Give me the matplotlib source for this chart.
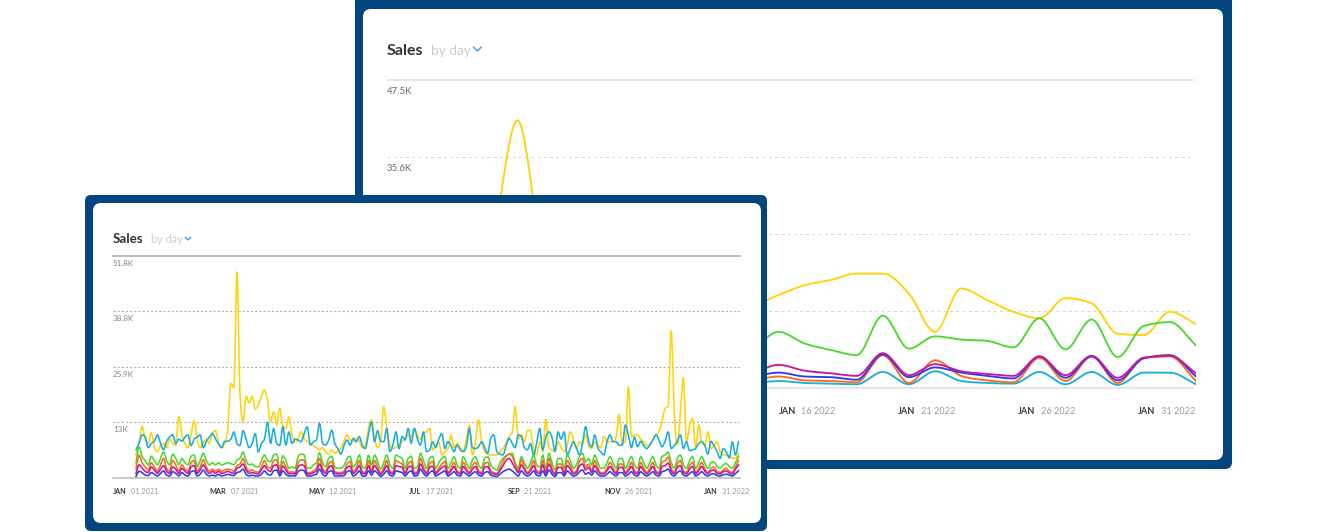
import numpy as np
import matplotlib
matplotlib.use("Agg")
import matplotlib.pyplot as plt
from matplotlib.patches import FancyBboxPatch
from matplotlib.transforms import Affine2D
from matplotlib.lines import Line2D
from matplotlib.offsetbox import TextArea, HPacker, AnnotationBbox

plt.rcParams['font.family'] = ['Lato', 'DejaVu Sans']

# ---- data (sales in hundreds) ----
# front card: Jan 01 2021 .. Jan 31 2022, one value every 2 days
front_yellow = [53, 80, 120, 90, 80, 105, 70, 60, 75, 80,
                70, 90, 80, 75, 143, 100, 80, 70, 100, 133,
                90, 70, 80, 90, 80, 105, 110, 80, 70, 80,
                115, 220, 210, 480, 195, 130, 190, 175, 190, 160,
                170, 190, 205, 180, 130, 154, 123, 162, 120, 115,
                142, 100, 84, 90, 107, 90, 85, 80, 75, 70,
                65, 70, 60, 55, 65, 57, 62, 70, 85, 100,
                88, 85, 92, 85, 70, 76, 115, 135, 90, 70,
                85, 166, 115, 76, 68, 72, 75, 84, 90, 100,
                95, 115, 100, 90, 105, 107, 115, 65, 75, 84,
                53, 60, 68, 100, 70, 80, 70, 61, 90, 123,
                53, 84, 135, 84, 61, 55, 53, 53, 53, 60,
                68, 80, 96, 105, 166, 90, 100, 84, 110, 110,
                65, 53, 84, 61, 137, 70, 65, 61, 84, 70,
                61, 75, 107, 90, 68, 84, 80, 100, 75, 68,
                84, 75, 70, 96, 85, 84, 84, 95, 148, 80,
                84, 212, 96, 100, 100, 90, 84, 75, 76, 90,
                100, 107, 130, 162, 166, 342, 154, 76, 150, 233,
                84, 120, 138, 70, 123, 84, 76, 107, 68, 75,
                84, 61, 53, 53, 53, 45, 45, 57]
front_cyan = [65, 80, 100, 95, 70, 80, 85, 100, 80, 65,
              85, 95, 100, 80, 90, 85, 95, 100, 75, 90,
              95, 100, 70, 85, 95, 103, 90, 80, 70, 85,
              85, 90, 107, 80, 75, 110, 90, 70, 80, 103,
              60, 80, 90, 130, 80, 115, 80, 75, 119, 76,
              107, 80, 90, 88, 84, 103, 119, 76, 84, 88,
              127, 80, 76, 88, 111, 80, 68, 55, 75, 88,
              76, 92, 84, 96, 75, 68, 100, 130, 84, 110,
              85, 84, 115, 61, 76, 107, 68, 96, 88, 115,
              80, 115, 90, 76, 107, 61, 65, 84, 70, 90,
              103, 68, 84, 75, 61, 76, 65, 61, 72, 115,
              70, 68, 72, 84, 70, 57, 92, 100, 60, 55,
              53, 75, 92, 80, 70, 100, 96, 70, 65, 80,
              53, 80, 115, 65, 95, 107, 95, 61, 107, 90,
              107, 53, 68, 84, 70, 53, 80, 119, 84, 72,
              100, 70, 60, 53, 84, 100, 84, 84, 76, 76,
              123, 100, 70, 95, 72, 85, 75, 68, 76, 88,
              100, 88, 72, 85, 107, 68, 75, 85, 100, 68,
              84, 63, 65, 68, 80, 84, 75, 55, 85, 75,
              61, 45, 68, 60, 46, 84, 53, 84]
front_green = [35, 72, 50, 40, 30, 50, 40, 30, 45, 60,
               40, 30, 55, 45, 30, 45, 35, 30, 50, 53,
               26, 40, 57, 40, 30, 35, 30, 35, 30, 32,
               35, 33, 30, 41, 45, 60, 40, 30, 32, 26,
               25, 40, 53, 40, 37, 53, 55, 22, 51, 40,
               22, 25, 22, 49, 55, 53, 22, 22, 30, 35,
               58, 35, 26, 45, 50, 25, 22, 22, 28, 45,
               50, 25, 35, 53, 26, 22, 53, 30, 53, 38,
               20, 35, 53, 30, 22, 53, 49, 45, 22, 45,
               50, 22, 25, 57, 40, 22, 45, 50, 22, 35,
               45, 50, 22, 35, 49, 30, 22, 49, 35, 22,
               42, 49, 30, 22, 45, 49, 30, 22, 18, 35,
               45, 51, 55, 57, 35, 22, 49, 35, 22, 35,
               53, 30, 25, 53, 22, 57, 35, 18, 45, 45,
               22, 53, 40, 22, 30, 50, 57, 37, 45, 30,
               53, 35, 22, 22, 35, 49, 35, 22, 45, 45,
               22, 35, 49, 30, 22, 49, 35, 22, 35, 49,
               30, 22, 49, 53, 60, 35, 22, 45, 53, 30,
               22, 40, 49, 22, 35, 49, 33, 22, 35, 37,
               26, 22, 30, 33, 26, 22, 35, 50]
front_orange = [20, 53, 35, 25, 18, 35, 25, 15, 30, 45,
                22, 15, 40, 30, 15, 30, 20, 15, 35, 40,
                14, 25, 42, 25, 15, 20, 15, 20, 15, 18,
                20, 18, 15, 28, 32, 45, 25, 15, 18, 14,
                13, 25, 40, 25, 22, 40, 42, 12, 38, 25,
                12, 14, 12, 35, 42, 40, 12, 12, 16, 22,
                45, 22, 14, 32, 38, 14, 12, 12, 15, 32,
                38, 14, 22, 40, 14, 12, 40, 16, 40, 25,
                11, 22, 40, 16, 12, 40, 36, 32, 12, 32,
                38, 12, 14, 45, 25, 12, 32, 38, 12, 22,
                32, 38, 12, 22, 36, 16, 12, 36, 22, 12,
                28, 36, 16, 12, 32, 36, 16, 12, 10, 22,
                38, 50, 55, 50, 30, 15, 42, 25, 12, 22,
                40, 16, 14, 40, 12, 45, 22, 10, 32, 32,
                12, 40, 28, 12, 16, 38, 45, 24, 32, 16,
                40, 22, 12, 12, 22, 36, 22, 12, 32, 32,
                12, 22, 36, 16, 12, 36, 22, 12, 22, 36,
                16, 12, 36, 40, 48, 22, 12, 32, 40, 16,
                12, 28, 36, 12, 22, 36, 20, 12, 22, 25,
                14, 12, 18, 22, 15, 12, 25, 40]
front_magenta = [10, 30, 22, 15, 12, 25, 18, 10, 20, 28,
                 15, 10, 25, 20, 10, 22, 15, 10, 25, 28,
                 10, 18, 30, 18, 10, 15, 10, 15, 10, 12,
                 15, 12, 10, 22, 25, 32, 18, 10, 12, 10,
                 9, 18, 28, 18, 15, 28, 30, 9, 27, 18,
                 9, 10, 9, 25, 30, 28, 9, 9, 12, 16,
                 32, 16, 10, 24, 28, 10, 9, 9, 11, 24,
                 27, 10, 16, 28, 10, 9, 28, 12, 28, 18,
                 8, 16, 28, 12, 9, 28, 26, 24, 9, 24,
                 27, 9, 10, 32, 18, 9, 24, 27, 9, 16,
                 24, 27, 9, 16, 26, 12, 9, 26, 16, 9,
                 20, 26, 12, 9, 24, 26, 12, 9, 8, 16,
                 28, 40, 45, 35, 22, 12, 30, 18, 9, 16,
                 28, 12, 10, 30, 9, 32, 16, 8, 24, 24,
                 9, 28, 20, 9, 12, 27, 32, 18, 24, 12,
                 28, 16, 9, 9, 16, 26, 16, 9, 24, 24,
                 9, 16, 26, 12, 9, 26, 16, 9, 16, 26,
                 12, 9, 26, 28, 34, 16, 9, 24, 28, 12,
                 9, 20, 26, 9, 16, 26, 15, 9, 16, 18,
                 10, 9, 14, 16, 11, 9, 20, 30]
front_blue = [3, 15, 12, 6, 5, 12, 8, 4, 10, 16,
              6, 4, 14, 10, 4, 12, 6, 4, 14, 16,
              4, 8, 18, 8, 4, 6, 4, 8, 4, 6,
              8, 6, 5, 12, 14, 20, 8, 4, 6, 4,
              4, 8, 16, 8, 6, 16, 18, 4, 16, 8,
              4, 5, 4, 14, 18, 16, 4, 4, 6, 8,
              20, 8, 4, 14, 16, 4, 4, 4, 5, 14,
              16, 4, 8, 16, 4, 4, 16, 6, 16, 10,
              3, 8, 16, 6, 4, 16, 14, 12, 4, 12,
              16, 4, 5, 20, 10, 4, 12, 16, 4, 8,
              12, 16, 4, 8, 14, 6, 4, 14, 8, 4,
              10, 14, 6, 4, 12, 14, 6, 4, 3, 8,
              14, 18, 20, 16, 10, 4, 16, 8, 4, 8,
              16, 6, 4, 16, 4, 18, 8, 3, 12, 12,
              4, 16, 10, 4, 6, 14, 18, 8, 12, 6,
              16, 8, 4, 4, 8, 14, 8, 4, 12, 12,
              4, 8, 14, 6, 4, 14, 8, 4, 8, 14,
              6, 4, 14, 16, 20, 8, 4, 12, 16, 6,
              4, 10, 14, 4, 8, 14, 7, 4, 8, 9,
              5, 4, 7, 8, 6, 4, 10, 16]

# back card: Dec 31 2021 .. Jan 31 2022, daily
back_yellow = [120, 135, 128, 150, 220, 413, 200, 140, 150, 165,
               145, 125, 135, 140, 128, 143, 158, 166, 176, 176,
               145, 86, 153, 135, 117, 107, 138, 130, 83, 81, 117, 98]
back_green = [70, 85, 60, 75, 90, 110, 70, 60, 85, 75,
              60, 90, 70, 65, 65, 86, 68, 58, 50, 111,
              60, 79, 74, 72, 62, 107, 59, 105, 47, 95, 101, 65]
back_magenta = [30, 25, 45, 22, 20, 28, 18, 42, 20, 25,
                40, 22, 20, 45, 25, 35, 26, 22, 18, 53,
                19, 36, 25, 21, 18, 48, 19, 49, 15, 46, 49, 22]
back_blue = [25, 20, 40, 18, 16, 24, 15, 38, 17, 22,
             36, 18, 16, 40, 18, 23, 17, 16, 12, 51,
             16, 31, 23, 18, 14, 48, 15, 48, 11, 45, 50, 17]
back_orange = [15, 10, 38, 9, 8, 14, 8, 36, 9, 12,
               35, 9, 8, 38, 13, 17, 11, 10, 8, 50,
               7, 42, 18, 11, 8, 46, 10, 48, 7, 46, 48, 10]
back_cyan = [8, 6, 20, 5, 5, 8, 5, 20, 6, 7,
             20, 5, 5, 21, 8, 10, 7, 6, 5, 24,
             5, 25, 10, 7, 6, 24, 5, 24, 4, 23, 23, 5]

front_ticks = [12.95, 25.9, 38.85, 51.8]
front_tick_labels = ['13K', '25.9K', '38.8K', '51.8K']
back_ticks = [11.875, 23.75, 35.625, 47.5]
back_tick_labels = ['11.9K', '23.8K', '35.6K', '47.5K']

front_months = ['JAN', 'MAR', 'MAY', 'JUL', 'SEP', 'NOV', 'JAN']
front_dates = ['01 2021', '07 2021', '12 2021', '17 2021', '21 2021', '26 2021', '31 2022']
back_months = ['JAN'] * 7
back_dates = ['01 2022', '06 2022', '11 2022', '16 2022', '21 2022', '26 2022', '31 2022']

YELLOW = '#FFD20A'
CYAN = '#1BAED8'
GREEN = '#4CD92E'
ORANGE = '#FF6B1C'
MAGENTA = '#C8179A'
BLUE = '#2F3BEF'
NAVY = '#03467F'


def monotone(x, y, n=8):
    # monotone cubic curve through the points (like d3 curveMonotoneX)
    x = np.asarray(x, float)
    y = np.asarray(y, float)
    h = np.diff(x)
    s = np.diff(y) / h
    m = np.zeros_like(y)
    m[0], m[-1] = s[0], s[-1]
    for k in range(1, len(y) - 1):
        if s[k - 1] * s[k] > 0:
            p = (s[k - 1] * h[k] + s[k] * h[k - 1]) / (h[k - 1] + h[k])
            m[k] = 2 * np.sign(s[k]) * min(abs(s[k - 1]), abs(s[k]), 0.5 * abs(p))
    t = np.linspace(0, 1, n, endpoint=False)
    h00 = 2 * t**3 - 3 * t**2 + 1
    h10 = t**3 - 2 * t**2 + t
    h01 = -2 * t**3 + 3 * t**2
    h11 = t**3 - t**2
    xs, ys = [], []
    for k in range(len(h)):
        xs.append(x[k] + t * h[k])
        ys.append(h00 * y[k] + h10 * h[k] * m[k] + h01 * y[k + 1] + h11 * h[k] * m[k + 1])
    xs.append([x[-1]])
    ys.append([y[-1]])
    return np.concatenate(xs), np.concatenate(ys)


W, H = 1320, 532
fig = plt.figure(figsize=(13.2, 5.32), dpi=100)
pxt = Affine2D().scale(1 / W, -1 / H).translate(0, 1) + fig.transFigure
renderer = fig.canvas.get_renderer()


def card(x0, y0, x1, y1, r, color, z):
    p = FancyBboxPatch((x0, y0), x1 - x0, y1 - y0,
                       boxstyle='round,pad=0,rounding_size=%g' % r,
                       transform=pxt, fc=color, ec='none', zorder=z)
    fig.add_artist(p)


def axes_px(x0, y0, x1, y1):
    return fig.add_axes([x0 / W, 1 - y1 / H, (x1 - x0) / W, (y1 - y0) / H])


def title(x, base, size, sub_x, sub_size, chev_w, z):
    fig.text(x / W, 1 - base / H, 'Sales', fontsize=size, fontweight='bold',
             color='#333333', va='baseline', zorder=z)
    t = fig.text(sub_x / W, 1 - base / H, 'by day', fontsize=sub_size,
                 color='#cccccc', va='baseline', zorder=z)
    # small chevron right after the "by day" text
    bb = t.get_window_extent(renderer)
    x0 = bb.x1 + 2.5
    yc = base - chev_w * 0.75
    fig.add_artist(Line2D([x0, x0 + chev_w / 2, x0 + chev_w],
                          [yc - chev_w * 0.25, yc + chev_w * 0.25, yc - chev_w * 0.25],
                          transform=pxt, color='#5aa2e2', lw=1.1, zorder=z,
                          solid_capstyle='round'))


def xlabels(ax, months, dates, x0, step, dy, size, z):
    for i, (mo, da) in enumerate(zip(months, dates)):
        box = HPacker(children=[
            TextArea(mo, textprops=dict(fontsize=size, fontweight='bold', color='#3c3c3c')),
            TextArea(da, textprops=dict(fontsize=size, color='#9a9a9a'))],
            sep=size * 0.6, align='baseline', pad=0)
        ab = AnnotationBbox(box, (x0 + i * step, 0), xycoords='axes fraction',
                            xybox=(0, -dy), boxcoords='offset pixels',
                            box_alignment=(0.5, 0.5), frameon=False, pad=0,
                            annotation_clip=False, zorder=z)
        ax.add_artist(ab)


# ---- back card ----
card(355, -20, 1232, 469, 7, NAVY, 1)
card(363, 9, 1223, 460, 8, 'white', 1.1)
title(387, 55, 11.5, 431, 9.8, 8, 1.2)

axb = axes_px(387, 80, 1196, 387.5)
axb.set_zorder(2)
axb.set_axis_off()
axb.set_xlim(0, len(back_yellow) - 1)
axb.set_ylim(0, 47.5)
for v in back_ticks[:-1]:
    axb.axhline(v, color='#d9d9d9', lw=0.75, ls=(0, (3, 3)), xmax=0.996)
axb.axhline(back_ticks[-1], color='#e3e3e3', lw=1.2, clip_on=False, xmax=0.996)
axb.axhline(0, color='#e6e6e6', lw=1.6, clip_on=False, xmax=0.996)
for v, lab in zip(back_ticks, back_tick_labels):
    axb.annotate(lab, xy=(0, v), xycoords=('axes fraction', 'data'), xytext=(0, -7),
                 textcoords='offset pixels', ha='left', va='top', fontsize=6.9,
                 color='#6b6b6b', annotation_clip=False)
kb = np.arange(len(back_yellow))
for ser, col in [(back_yellow, YELLOW), (back_green, GREEN), (back_cyan, CYAN),
                 (back_orange, ORANGE), (back_blue, BLUE), (back_magenta, MAGENTA)]:
    xs, ys = monotone(kb, np.array(ser) / 10.0, n=16)
    axb.plot(xs, ys, color=col, lw=1.35, solid_joinstyle='round')
xlabels(axb, back_months, back_dates, 0.0753, 0.148, 24, 6.6, 3)

# ---- front card ----
card(85, 195, 767, 531, 6, NAVY, 3)
card(93, 203, 761, 523, 8, 'white', 3.1)
title(113, 242.7, 9.6, 151, 7.8, 5.5, 3.2)

axf = axes_px(113, 255.7, 740, 477.7)
axf.set_zorder(4)
axf.set_axis_off()
axf.set_xlim(-15.04, 395)
axf.set_ylim(0, 51.8)
for v in front_ticks[:-1]:
    axf.axhline(v, color='#ababab', lw=0.75, ls=(0, (2, 2)))
axf.axhline(front_ticks[-1], color='#bdbdbd', lw=1.4, clip_on=False)
axf.axhline(0, color='#c9c9c9', lw=1.4, clip_on=False)
for v, lab in zip(front_ticks, front_tick_labels):
    axf.annotate(lab, xy=(0, v), xycoords=('axes fraction', 'data'), xytext=(0, -4),
                 textcoords='offset pixels', ha='left', va='top', fontsize=5.8,
                 color='#858585', annotation_clip=False)
days = np.arange(len(front_yellow)) * 2
for ser, col in [(front_yellow, YELLOW), (front_cyan, CYAN), (front_green, GREEN),
                 (front_orange, ORANGE), (front_magenta, MAGENTA), (front_blue, BLUE)]:
    xs, ys = monotone(days, np.array(ser) / 10.0, n=6)
    axf.plot(xs, ys, color=col, lw=1.15, solid_joinstyle='round')
xlabels(axf, front_months, front_dates, 0.0359, 0.1571, 13.3, 5.2, 5)

fig.savefig('out.png', dpi=100, facecolor='white')
